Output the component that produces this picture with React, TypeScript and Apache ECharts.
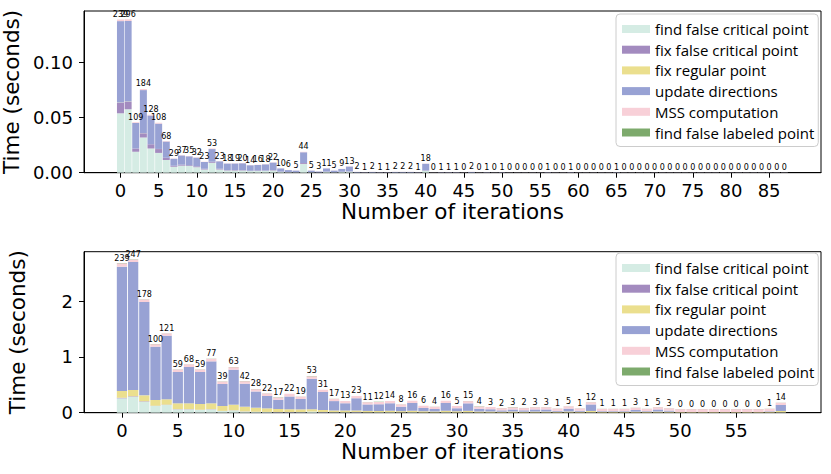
import React, { useEffect, useRef } from "react";
import * as echarts from "echarts";

const SERIES_NAMES = [
  "find false critical point",
  "fix false critical point",
  "fix regular point",
  "update directions",
  "MSS computation",
  "find false labeled point",
];
const COLORS = ["#d5ece4", "#a38bbf", "#ebdf8e", "#98a2d4", "#f8d0d8", "#7daa6c"];

const X_TICKS_TOP = [0, 5, 10, 15, 20, 25, 30, 35, 40, 45, 50, 55, 60, 65, 70, 75, 80, 85];
const X_TICKS_BOT = [0, 5, 10, 15, 20, 25, 30, 35, 40, 45, 50, 55];
const Y_TICKS_TOP = [0, 0.05, 0.1];
const Y_TICKS_BOT = [0, 1, 2];

// ---------- top chart (88 iterations) ----------
const labelsTop = [
  239, 296, 109, 184, 128, 108, 68, 29, 37, 35,
  32, 23, 53, 23, 18, 19, 20, 14, 16, 18,
  22, 10, 6, 5, 44, 5, 3, 11, 5, 9,
  13, 2, 1, 2, 1, 1, 2, 2, 2, 1,
  18, 0, 1, 1, 1, 0, 2, 0, 1, 0,
  1, 0, 0, 0, 0, 0, 1, 0, 0, 1,
  0, 0, 0, 0, 0, 1, 0, 0, 0, 0,
  0, 0, 0, 0, 0, 0, 0, 0, 0, 0,
  0, 0, 0, 0, 0, 0, 0, 0,
];
const iterationsTop = labelsTop.map((_, i) => String(i));
const findFalseCriticalTop = [
  0.054, 0.0576, 0.019, 0.032, 0.022, 0.018, 0.0115, 0.0055, 0.0064, 0.006,
  0.005, 0.003, 0.009, 0.003, 0.002, 0.002, 0.002, 0.0015, 0.0016, 0.0017,
  0.002, 0.0008, 0.0005, 0.0004, 0.008, 0.0004, 0.0002, 0.0008, 0.0004, 0.0007,
  0.001, 0.0002, 0.0001, 0.0002, 0.0001, 0.0001, 0.0002, 0.0002, 0.0002, 0.0001,
  0.0018, 0.0001, 0.0001, 0.0001, 0.0001, 0.0001, 0.0002, 0.0001, 0.0001, 0.0001,
  0.0001, 0.0001, 0.0001, 0.0001, 0.0001, 0.0001, 0.0001, 0.0001, 0.0001, 0.0001,
  0.0001, 0.0001, 0.0001, 0.0001, 0.0001, 0.0001, 0.0001, 0.0001, 0.0001, 0.0001,
  0.0001, 0.0001, 0.0001, 0.0001, 0.0001, 0.0001, 0.0001, 0.0001, 0.0001, 0.0001,
  0.0001, 0.0001, 0.0001, 0.0001, 0.0001, 0.0001, 0.0001, 0.0001,
];
const fixFalseCriticalTop = [
  0.0096, 0.0069, 0.003, 0.0038, 0.0038, 0.0035, 0.002, 0.0008, 0.0009, 0.0008,
  0.0008, 0.0005, 0.001, 0.0005, 0.0004, 0.0004, 0.0004, 0.0003, 0.0003, 0.0003,
  0.0004, 0.0002, 0.0001, 0.0001, 0.0008, 0.0001, 0.0001, 0.0002, 0.0001, 0.0002,
  0.0002, 0, 0, 0, 0, 0, 0, 0, 0, 0,
  0.0003, 0, 0, 0, 0, 0, 0, 0, 0, 0,
  0, 0, 0, 0, 0, 0, 0, 0, 0, 0,
  0, 0, 0, 0, 0, 0, 0, 0, 0, 0,
  0, 0, 0, 0, 0, 0, 0, 0, 0, 0,
  0, 0, 0, 0, 0, 0, 0, 0,
];
const fixRegularTop = [
  0.0002, 0.0002, 0.0001, 0.0001, 0.0001, 0.0001, 0, 0, 0, 0,
  0, 0, 0, 0, 0, 0, 0, 0, 0, 0,
  0, 0, 0, 0, 0, 0, 0, 0, 0, 0,
  0, 0, 0, 0, 0, 0, 0, 0, 0, 0,
  0, 0, 0, 0, 0, 0, 0, 0, 0, 0,
  0, 0, 0, 0, 0, 0, 0, 0, 0, 0,
  0, 0, 0, 0, 0, 0, 0, 0, 0, 0,
  0, 0, 0, 0, 0, 0, 0, 0, 0, 0,
  0, 0, 0, 0, 0, 0, 0, 0,
];
const updateDirectionsTop = [
  0.074, 0.0733, 0.023, 0.0392, 0.026, 0.023, 0.0148, 0.0064, 0.0084, 0.0081,
  0.0079, 0.0063, 0.0115, 0.0069, 0.0059, 0.0059, 0.0062, 0.005, 0.0052, 0.0056,
  0.0068, 0.0029, 0.0018, 0.0014, 0.0098, 0.0014, 0.0008, 0.0029, 0.0014, 0.0025,
  0.0044, 0.0005, 0.0003, 0.0005, 0.0003, 0.0003, 0.0005, 0.0005, 0.0005, 0.0003,
  0.006, 0.0001, 0.0003, 0.0003, 0.0003, 0.0001, 0.0005, 0.0001, 0.0003, 0.0001,
  0.0003, 0.0001, 0.0001, 0.0001, 0.0001, 0.0001, 0.0003, 0.0001, 0.0001, 0.0003,
  0.0001, 0.0001, 0.0001, 0.0001, 0.0001, 0.0003, 0.0001, 0.0001, 0.0001, 0.0001,
  0.0001, 0.0001, 0.0001, 0.0001, 0.0001, 0.0001, 0.0001, 0.0001, 0.0001, 0.0001,
  0.0001, 0.0001, 0.0001, 0.0001, 0.0001, 0.0001, 0.0001, 0.0001,
];
const mssTop = [
  0.0015, 0.0015, 0.0008, 0.001, 0.0008, 0.0008, 0.0005, 0.0003, 0.0003, 0.0003,
  0.0003, 0.0002, 0.0005, 0.0002, 0.0002, 0.0002, 0.0002, 0.0002, 0.0002, 0.0002,
  0.0002, 0.0001, 0.0001, 0.0001, 0.0004, 0.0001, 0.0001, 0.0001, 0.0001, 0.0001,
  0.0002, 0.0001, 0.0001, 0.0001, 0.0001, 0.0001, 0.0001, 0.0001, 0.0001, 0.0001,
  0.0002, 0.0001, 0.0001, 0.0001, 0.0001, 0.0001, 0.0001, 0.0001, 0.0001, 0.0001,
  0.0001, 0.0001, 0.0001, 0.0001, 0.0001, 0.0001, 0.0001, 0.0001, 0.0001, 0.0001,
  0.0001, 0.0001, 0.0001, 0.0001, 0.0001, 0.0001, 0.0001, 0.0001, 0.0001, 0.0001,
  0.0001, 0.0001, 0.0001, 0.0001, 0.0001, 0.0001, 0.0001, 0.0001, 0.0001, 0.0001,
  0.0001, 0.0001, 0.0001, 0.0001, 0.0001, 0.0001, 0.0001, 0.0001,
];
const findFalseLabeledTop = [
  0, 0, 0, 0, 0, 0, 0, 0, 0, 0,
  0, 0, 0, 0, 0, 0, 0, 0, 0, 0,
  0, 0, 0, 0, 0, 0, 0, 0, 0, 0,
  0, 0, 0, 0, 0, 0, 0, 0, 0, 0,
  0, 0, 0, 0, 0, 0, 0, 0, 0, 0,
  0, 0, 0, 0, 0, 0, 0, 0, 0, 0,
  0, 0, 0, 0, 0, 0, 0, 0, 0, 0,
  0, 0, 0, 0, 0, 0, 0, 0, 0, 0,
  0, 0, 0, 0, 0, 0, 0, 0,
];

// ---------- bottom chart (60 iterations) ----------
const labelsBot = [
  239, 247, 178, 100, 121, 59, 68, 59, 77, 39,
  63, 42, 28, 22, 17, 22, 19, 53, 31, 17,
  13, 23, 11, 12, 14, 8, 16, 6, 4, 16,
  5, 15, 4, 3, 2, 3, 2, 3, 3, 1,
  5, 1, 12, 1, 1, 1, 3, 1, 5, 3,
  0, 0, 0, 0, 0, 0, 0, 0, 1, 14,
];
const iterationsBot = labelsBot.map((_, i) => String(i));
const findFalseCriticalBot = [
  0.258, 0.287, 0.197, 0.12, 0.138, 0.06, 0.06, 0.05, 0.06, 0.03,
  0.04, 0.02, 0.015, 0.012, 0.01, 0.01, 0.01, 0.02, 0.01, 0.008,
  0.008, 0.01, 0.006, 0.006, 0.007, 0.005, 0.007, 0.004, 0.003, 0.007,
  0.004, 0.007, 0.003, 0.003, 0.002, 0.003, 0.002, 0.003, 0.003, 0.002,
  0.003, 0.002, 0.006, 0.002, 0.002, 0.002, 0.002, 0.002, 0.003, 0.002,
  0.001, 0.001, 0.001, 0.001, 0.001, 0.001, 0.001, 0.001, 0.002, 0.006,
];
const fixFalseCriticalBot = [
  0.01, 0.01, 0.008, 0.005, 0.006, 0.004, 0.004, 0.004, 0.004, 0.003,
  0.003, 0.003, 0.002, 0.002, 0.002, 0.002, 0.002, 0.003, 0.002, 0.002,
  0.002, 0.002, 0.001, 0.001, 0.001, 0.001, 0.001, 0.001, 0.001, 0.001,
  0.001, 0.001, 0.001, 0.001, 0.001, 0.001, 0.001, 0.001, 0.001, 0.001,
  0.001, 0.001, 0.001, 0.001, 0.001, 0.001, 0.001, 0.001, 0.001, 0.001,
  0, 0, 0, 0, 0, 0, 0, 0, 0.001, 0.001,
];
const fixRegularBot = [
  0.121, 0.11, 0.106, 0.103, 0.096, 0.104, 0.104, 0.102, 0.104, 0.087,
  0.101, 0.085, 0.073, 0.064, 0.054, 0.048, 0.048, 0.04, 0.038, 0.03,
  0.03, 0.028, 0.025, 0.025, 0.026, 0.022, 0.025, 0.02, 0.018, 0.025,
  0.02, 0.025, 0.018, 0.016, 0.015, 0.016, 0.015, 0.016, 0.016, 0.014,
  0.018, 0.014, 0.024, 0.013, 0.013, 0.013, 0.015, 0.013, 0.016, 0.015,
  0.01, 0.01, 0.01, 0.01, 0.01, 0.01, 0.01, 0.01, 0.012, 0.024,
];
const updateDirectionsBot = [
  2.228, 2.293, 1.673, 0.955, 1.14, 0.561, 0.652, 0.573, 0.752, 0.394,
  0.627, 0.412, 0.29, 0.222, 0.164, 0.232, 0.186, 0.547, 0.32, 0.168,
  0.128, 0.218, 0.116, 0.121, 0.134, 0.08, 0.14, 0.059, 0.044, 0.14,
  0.053, 0.135, 0.051, 0.04, 0.024, 0.038, 0.025, 0.038, 0.038, 0.016,
  0.051, 0.019, 0.117, 0.012, 0.012, 0.012, 0.03, 0.012, 0.038, 0.02,
  0.002, 0.002, 0.002, 0.002, 0.002, 0.002, 0.002, 0.002, 0.01, 0.107,
];
const mssBot = [
  0.06, 0.045, 0.045, 0.045, 0.04, 0.045, 0.045, 0.045, 0.045, 0.045,
  0.045, 0.045, 0.042, 0.045, 0.044, 0.046, 0.042, 0.045, 0.04, 0.04,
  0.04, 0.04, 0.04, 0.04, 0.04, 0.04, 0.04, 0.04, 0.04, 0.04,
  0.04, 0.04, 0.04, 0.04, 0.04, 0.04, 0.04, 0.04, 0.04, 0.04,
  0.04, 0.04, 0.04, 0.04, 0.04, 0.04, 0.04, 0.04, 0.04, 0.04,
  0.05, 0.05, 0.05, 0.05, 0.05, 0.05, 0.05, 0.05, 0.045, 0.04,
];
const findFalseLabeledBot = [
  0.005, 0.005, 0.003, 0.003, 0.002, 0.003, 0.002, 0.003, 0.003, 0.003,
  0.003, 0.003, 0.003, 0.002, 0.002, 0.002, 0.002, 0.003, 0.002, 0.002,
  0.002, 0.002, 0.002, 0.002, 0.002, 0.002, 0.002, 0.002, 0.002, 0.002,
  0.002, 0.002, 0.002, 0.002, 0.002, 0.002, 0.002, 0.002, 0.002, 0.002,
  0.002, 0.002, 0.002, 0.002, 0.002, 0.002, 0.002, 0.002, 0.002, 0.002,
  0.002, 0.002, 0.002, 0.002, 0.002, 0.002, 0.002, 0.002, 0.002, 0.002,
];

const TOP_SETS = [
  findFalseCriticalTop,
  fixFalseCriticalTop,
  fixRegularTop,
  updateDirectionsTop,
  mssTop,
  findFalseLabeledTop,
];
const BOT_SETS = [
  findFalseCriticalBot,
  fixFalseCriticalBot,
  fixRegularBot,
  updateDirectionsBot,
  mssBot,
  findFalseLabeledBot,
];

const FONT = "DejaVu Sans";

function buildSeries(sets: number[][], labels: number[], axisIdx: number, barWidth: number) {
  return sets.map((arr, k) => {
    const s: any = {
      type: "bar",
      name: SERIES_NAMES[k],
      xAxisIndex: axisIdx,
      yAxisIndex: axisIdx,
      stack: "s" + axisIdx,
      barWidth,
      itemStyle: { color: COLORS[k] },
      data: arr,
    };
    if (k === sets.length - 1) {
      s.label = {
        show: true,
        position: "top",
        distance: 1,
        fontSize: 8,
        fontFamily: FONT,
        color: "#000",
        formatter: (p: any) => String(labels[p.dataIndex]),
      };
    }
    return s;
  });
}

function outerX(grid: number, min: number, max: number, ticks: number[]) {
  return {
    type: "value",
    gridIndex: grid,
    min,
    max,
    name: "Number of iterations",
    nameLocation: "middle",
    nameGap: 23,
    nameTextStyle: { fontFamily: FONT, fontSize: 21.5, color: "#000" },
    axisLine: { show: true, onZero: false, lineStyle: { color: "#000", width: 1 } },
    axisTick: { show: true, length: 5, lineStyle: { color: "#000", width: 1 }, customValues: ticks },
    axisLabel: { fontFamily: FONT, fontSize: 18, color: "#000", margin: 9, customValues: ticks },
    splitLine: { show: false },
  };
}

function innerX(grid: number, cats: string[]) {
  return {
    type: "category",
    gridIndex: grid,
    data: cats,
    boundaryGap: true,
    show: false,
  };
}

function outerY(grid: number, max: number, ticks: number[], digits: number) {
  return {
    type: "value",
    gridIndex: grid,
    min: 0,
    max,
    name: "Time (seconds)",
    nameLocation: "middle",
    nameGap: 56,
    nameTextStyle: { fontFamily: FONT, fontSize: 21.5, color: "#000" },
    axisLine: { show: true, onZero: false, lineStyle: { color: "#000", width: 1 } },
    axisTick: { show: true, length: 5, lineStyle: { color: "#000", width: 1 }, customValues: ticks },
    axisLabel: {
      fontFamily: FONT,
      fontSize: 18,
      color: "#000",
      margin: 11,
      customValues: ticks,
      formatter: (v: number) => v.toFixed(digits),
    },
    splitLine: { show: false },
  };
}

function innerY(grid: number, max: number) {
  return { type: "value", gridIndex: grid, min: 0, max, show: false, splitLine: { show: false } };
}

function legendDef(top: number) {
  return {
    orient: "vertical",
    left: 616,
    top,
    icon: "rect",
    itemWidth: 28,
    itemHeight: 8,
    itemGap: 4.7,
    padding: [7, 4, 6, 6],
    backgroundColor: "#fff",
    borderColor: "#cccccc",
    borderWidth: 1,
    borderRadius: 4,
    selectedMode: false,
    itemStyle: { borderWidth: 0 },
    textStyle: { fontFamily: "Open Sans", fontSize: 15, color: "#000", lineHeight: 16 },
    data: SERIES_NAMES,
    z: 10,
  };
}

// plot frames (pixels) and x-axis extents (iteration units)
const TOP_MIN = -4.78;
const TOP_MAX = 91.8;
const BOT_MIN = -3.4;
const BOT_MAX = 62.6;
const PLOT_LEFT = 84;
const PLOT_WIDTH = 737;

export default function App() {
  const ref = useRef<HTMLDivElement>(null);
  useEffect(() => {
    if (!ref.current) return;
    const chart = echarts.init(ref.current, null, { renderer: "svg" });

    const unitTop = PLOT_WIDTH / (TOP_MAX - TOP_MIN);
    const unitBot = PLOT_WIDTH / (BOT_MAX - BOT_MIN);
    const innerTopLeft = PLOT_LEFT + (-0.5 - TOP_MIN) * unitTop;
    const innerBotLeft = PLOT_LEFT + (-0.5 - BOT_MIN) * unitBot;
    const g = { containLabel: false, outerBoundsMode: "none" };

    chart.setOption({
      animation: false,
      backgroundColor: "#fff",
      grid: [
        { ...g, left: PLOT_LEFT, top: 11, width: PLOT_WIDTH, height: 161.7, show: true, borderColor: "#000", borderWidth: 1, backgroundColor: "transparent" },
        { ...g, left: innerTopLeft, top: 11, width: iterationsTop.length * unitTop, height: 161.7 },
        { ...g, left: PLOT_LEFT, top: 251.7, width: PLOT_WIDTH, height: 161, show: true, borderColor: "#000", borderWidth: 1, backgroundColor: "transparent" },
        { ...g, left: innerBotLeft, top: 251.7, width: iterationsBot.length * unitBot, height: 161 },
      ],
      xAxis: [
        outerX(0, TOP_MIN, TOP_MAX, X_TICKS_TOP),
        innerX(1, iterationsTop),
        outerX(2, BOT_MIN, BOT_MAX, X_TICKS_BOT),
        innerX(3, iterationsBot),
      ],
      yAxis: [
        outerY(0, 0.147, Y_TICKS_TOP, 2),
        innerY(1, 0.147),
        outerY(2, 2.885, Y_TICKS_BOT, 0),
        innerY(3, 2.885),
      ],
      legend: [legendDef(14), legendDef(253)],
      series: [
        ...buildSeries(TOP_SETS, labelsTop, 1, 0.92 * unitTop),
        ...buildSeries(BOT_SETS, labelsBot, 3, 0.92 * unitBot),
      ],
    });
    return () => chart.dispose();
  }, []);
  return (
    <div
      ref={ref}
      style={{ position: "fixed", left: 0, top: 0, width: 831, height: 474, background: "#fff" }}
    />
  );
}
